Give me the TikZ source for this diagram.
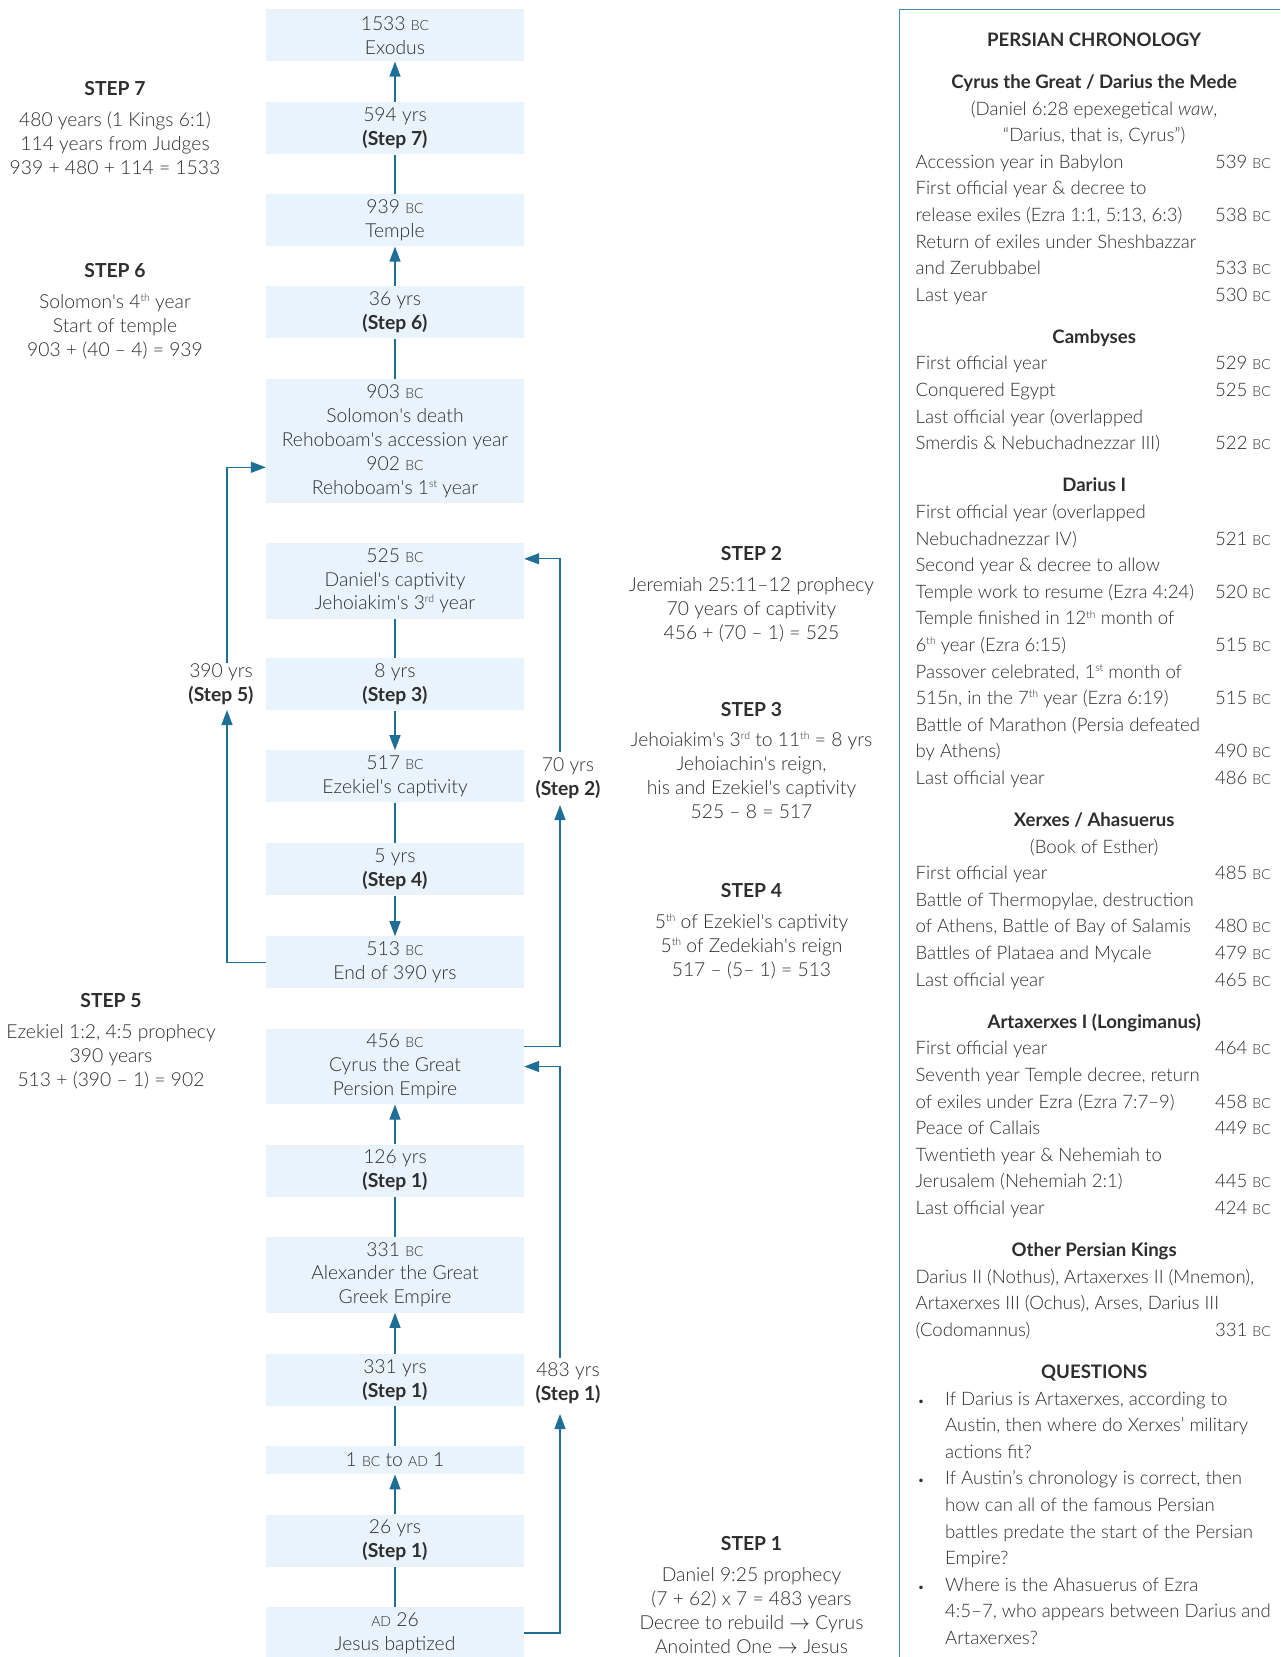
\documentclass[tikz,border=0pt]{standalone}
\usepackage{fontspec}
\setmainfont{Lato}[UprightFont={* Light}, BoldFont={* Bold}, ItalicFont={* Light Italic}]
\usepackage{tikz}
\usepackage{xcolor}
\usetikzlibrary{arrows.meta}

\definecolor{boxblue}{HTML}{E8F3FB}
\definecolor{linkblue}{HTML}{1F6E95}
\definecolor{frameblue}{HTML}{4C8AB0}
\definecolor{inkgray}{HTML}{2E2E2E}

\newcommand{\boxfont}{\fontsize{19.3}{23.9}\selectfont}
\newcommand{\panelfont}{\fontsize{18.6}{26.6}\selectfont}
\newcommand{\BC}{{\fontsize{14}{14}\selectfont BC}}
\newcommand{\AD}{{\fontsize{14}{14}\selectfont AD}}
\newcommand{\ap}{\textquotesingle}
\newcommand{\ord}[1]{\raisebox{0.36em}{\fontsize{10.5}{10.5}\selectfont #1}}
\newcommand{\hd}[1]{\multicolumn{2}{@{\hspace{2pt}}c@{}}{\textbf{#1}}}
\newcommand{\ct}[1]{\multicolumn{2}{@{\hspace{2pt}}c@{}}{#1}}
\newcommand{\tx}[1]{\multicolumn{2}{@{}l@{}}{#1}}
\newcommand{\qb}{\makebox[29.6pt][l]{\hspace{2pt}{\fontsize{12}{12}\selectfont\textbullet}}}
\newcommand{\qi}{\hspace*{29.6pt}}

\begin{document}
\begin{tikzpicture}[x=1pt, y=-1pt,
  every node/.style={text=inkgray},
  yrbox/.style={fill=boxblue, minimum width=258pt, minimum height=#1*23.9pt+4.2pt,
    inner sep=0pt, align=center, font=\boxfont},
  yrlabel/.style={inner sep=0pt, align=center, font=\boxfont},
  steptext/.style={anchor=north, inner sep=0pt, align=center, font=\boxfont},
  conn/.style={draw=linkblue, line width=1.3pt},
  arr/.style={conn, -{Triangle[length=15pt, width=11pt]}}]
\useasboundingbox (0,0) rectangle (1280,1657);
\fill [white] (0,0) rectangle (1280,1657);

\node [yrbox=2] (b1533) at (395,35.4) {1533 \BC\\Exodus};
\node [yrbox=2] (s7) at (395,128.4) {594 yrs\\\textbf{(Step 7)}};
\node [yrbox=2] (b939) at (395,220.4) {939 \BC\\Temple};
\node [yrbox=2] (s6) at (395,312.3) {36 yrs\\\textbf{(Step 6)}};
\node [yrbox=5] (b903) at (395,441.3) {903 \BC\\Solomon\ap s death\\Rehoboam\ap s accession year\\902 \BC\\Rehoboam\ap s 1\ord{st} year};
\node [yrbox=3] (b525) at (395,580.8) {525 \BC\\Daniel\ap s captivity\\Jehoiakim\ap s 3\ord{rd} year};
\node [yrbox=2] (s3) at (395,684.4) {8 yrs\\\textbf{(Step 3)}};
\node [yrbox=2] (b517) at (395,776.4) {517 \BC\\Ezekiel\ap s captivity};
\node [yrbox=2] (s4) at (395,869.4) {5 yrs\\\textbf{(Step 4)}};
\node [yrbox=2] (b513) at (395,962.4) {513 \BC\\End of 390 yrs};
\node [yrbox=3] (b456) at (395,1066.5) {456 \BC\\Cyrus the Great\\Persion Empire};
\node [yrbox=2] (s1a) at (395,1170.6) {126 yrs\\\textbf{(Step 1)}};
\node [yrbox=3] (b331) at (395,1274.7) {331 \BC\\Alexander the Great\\Greek Empire};
\node [yrbox=2] (s1b) at (395,1379.9) {331 yrs\\\textbf{(Step 1)}};
\node [yrbox=1] (b1bc) at (395,1460.2) {1 \BC{} to \AD{} 1};
\node [yrbox=2] (s1c) at (395,1540.6) {26 yrs\\\textbf{(Step 1)}};
\node [yrbox=2] (bad26) at (395,1632.9) {\AD{} 26\\Jesus baptized};

\draw [arr] (s7) -- (b1533);
\draw [conn] (b939) -- (s7);
\draw [arr] (s6) -- (b939);
\draw [conn] (b903) -- (s6);
\draw [conn] (b525) -- (s3);
\draw [arr] (s3) -- (b517);
\draw [conn] (b517) -- (s4);
\draw [arr] (s4) -- (b513);
\draw [arr] (s1a) -- (b456);
\draw [conn] (b331) -- (s1a);
\draw [arr] (s1b) -- (b331);
\draw [conn] (b1bc) -- (s1b);
\draw [arr] (s1c) -- (b1bc);
\draw [conn] (bad26) -- (s1c);

\node [yrlabel] (lbl5) at (221,684) {390 yrs\\\textbf{(Step 5)}};
\node [yrlabel] (lbl2) at (568,778) {70 yrs\\\textbf{(Step 2)}};
\node [yrlabel] (lbl1) at (568,1383) {483 yrs\\\textbf{(Step 1)}};
\coordinate (lbl5b) at (227,710);
\coordinate (lbl5t) at (227,663);
\coordinate (lbl2b) at (560,805);
\coordinate (lbl2t) at (560,752);
\coordinate (lbl1b) at (560,1414);
\coordinate (lbl1t) at (560,1358);
\draw [arr] (b513.west) -| (lbl5b);
\draw [arr] (lbl5t) |- ([yshift=-26pt]b903.west);
\draw [arr] ([yshift=20pt]b456.east) -| (lbl2b);
\draw [arr] (lbl2t) |- ([yshift=22pt]b525.east);
\draw [arr] (bad26.east) -| (lbl1b);
\draw [arr] (lbl1t) |- (b456.east);

\node [steptext] (step7) at (115,81.2) {\textbf{STEP 7}\\[7pt]480 years (1 Kings 6:1)\\114 years from Judges\\939 + 480 + 114 = 1533};
\node [steptext] (step6) at (115,263) {\textbf{STEP 6}\\[7pt]Solomon\ap s 4\ord{th} year\\Start of temple\\903 + (40 – 4) = 939};
\node [steptext] (step5) at (111,993.5) {\textbf{STEP 5}\\[7pt]Ezekiel 1:2, 4:5 prophecy\\390 years\\513 + (390 – 1) = 902};
\node [steptext] (step2) at (751.5,546.3) {\textbf{STEP 2}\\[7pt]Jeremiah 25:11–12 prophecy\\70 years of captivity\\456 + (70 – 1) = 525};
\node [steptext] (step3) at (751.5,701.7) {\textbf{STEP 3}\\[7pt]Jehoiakim\ap s 3\ord{rd} to 11\ord{th} = 8 yrs\\Jehoiachin\ap s reign,\\his and Ezekiel\ap s captivity\\525 – 8 = 517};
\node [steptext] (step4) at (751.5,883.5) {\textbf{STEP 4}\\[7pt]5\ord{th} of Ezekiel\ap s captivity\\5\ord{th} of Zedekiah\ap s reign\\517 – (5– 1) = 513};
\node [steptext] (step1) at (751.5,1536.5) {\textbf{STEP 1}\\[7pt]Daniel 9:25 prophecy\\(7 + 62) x 7 = 483 years\\Decree to rebuild $\rightarrow$ Cyrus\\Anointed One $\rightarrow$ Jesus};

\draw [draw=frameblue, line width=1.3pt] (1280,9.5) -- (899.5,9.5) -- (899.5,1657);
\node [anchor=north west, inner sep=0pt, font=\panelfont] (chron) at (915.4,27.5) {
\begin{tabular*}{349pt}{@{}l@{\extracolsep{\fill}}r@{}}
\hd{PERSIAN CHRONOLOGY}\\[15.5pt]
\hd{Cyrus the Great / Darius the Mede}\\
\ct{(Daniel 6:28 epexegetical \textit{waw},}\\
\ct{“Darius, that is, Cyrus”)}\\
Accession year in Babylon & 539 \BC\\
\tx{First official year \& decree to}\\
release exiles (Ezra 1:1, 5:13, 6:3) & 538 \BC\\
\tx{Return of exiles under Sheshbazzar}\\
and Zerubbabel & 533 \BC\\
Last year & 530 \BC\\[15.5pt]
\hd{Cambyses}\\
First official year & 529 \BC\\
Conquered Egypt & 525 \BC\\
\tx{Last official year (overlapped}\\
Smerdis \& Nebuchadnezzar III) & 522 \BC\\[15.5pt]
\hd{Darius I}\\
\tx{First official year (overlapped}\\
Nebuchadnezzar IV) & 521 \BC\\
\tx{Second year \& decree to allow}\\
Temple work to resume (Ezra 4:24) & 520 \BC\\
\tx{Temple finished in 12\ord{th} month of}\\
6\ord{th} year (Ezra 6:15) & 515 \BC\\
\tx{Passover celebrated, 1\ord{st} month of}\\
515n, in the 7\ord{th} year (Ezra 6:19) & 515 \BC\\
\tx{Battle of Marathon (Persia defeated}\\
by Athens) & 490 \BC\\
Last official year & 486 \BC\\[15.5pt]
\hd{Xerxes / Ahasuerus}\\
\ct{(Book of Esther)}\\
First official year & 485 \BC\\
\tx{Battle of Thermopylae, destruction}\\
of Athens, Battle of Bay of Salamis & 480 \BC\\
Battles of Plataea and Mycale & 479 \BC\\
Last official year & 465 \BC\\[15.5pt]
\hd{Artaxerxes I (Longimanus)}\\
First official year & 464 \BC\\
\tx{Seventh year Temple decree, return}\\
of exiles under Ezra (Ezra 7:7–9) & 458 \BC\\
Peace of Callais & 449 \BC\\
\tx{Twentieth year \& Nehemiah to}\\
Jerusalem (Nehemiah 2:1) & 445 \BC\\
Last official year & 424 \BC\\[15.5pt]
\hd{Other Persian Kings}\\
\tx{Darius II (Nothus), Artaxerxes II (Mnemon),}\\
\tx{Artaxerxes III (Ochus), Arses, Darius III}\\
(Codomannus) & 331 \BC\\[15.5pt]
\hd{QUESTIONS}\\
\tx{\qb If Darius is Artaxerxes, according to}\\
\tx{\qi Austin, then where do Xerxes’ military}\\
\tx{\qi actions fit?}\\
\tx{\qb If Austin’s chronology is correct, then}\\
\tx{\qi how can all of the famous Persian}\\
\tx{\qi battles predate the start of the Persian}\\
\tx{\qi Empire?}\\
\tx{\qb Where is the Ahasuerus of Ezra}\\
\tx{\qi 4:5–7, who appears between Darius and}\\
\tx{\qi Artaxerxes?}\\
\end{tabular*}};
\end{tikzpicture}
\end{document}
